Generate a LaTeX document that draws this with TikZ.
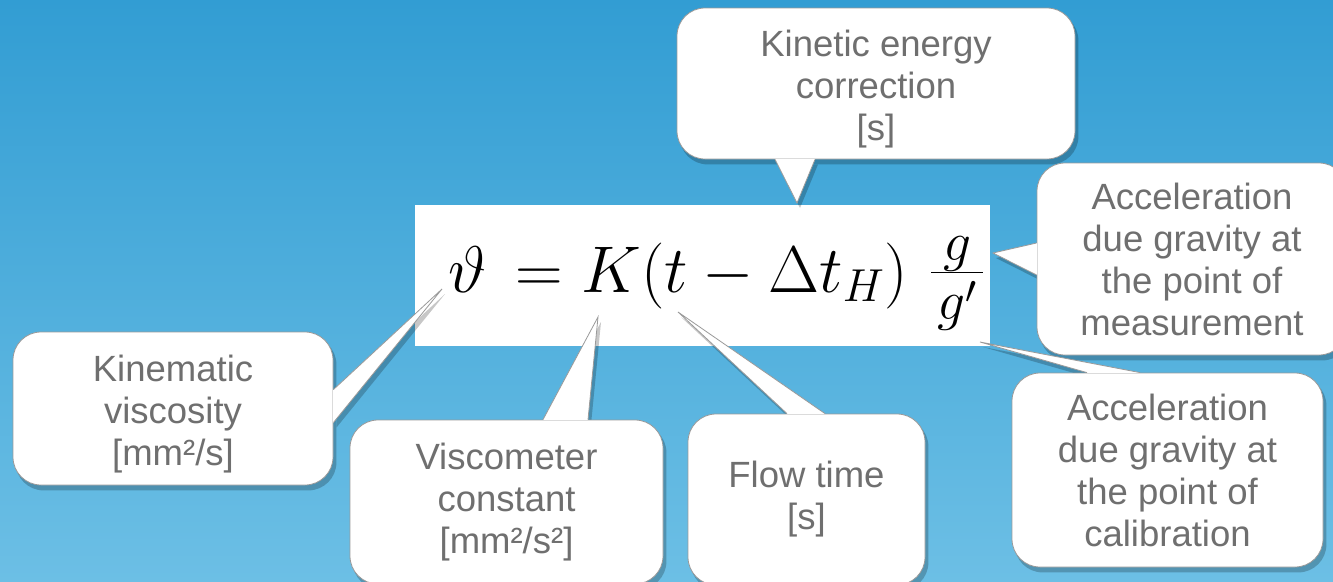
\RequirePackage{fix-cm}
\documentclass[tikz,border=0pt]{standalone}
\usepackage{graphicx}
\usepackage{fontspec}
\newfontfamily\lab{Liberation Sans}
\usetikzlibrary{calc}
\pgfdeclarelayer{bg}
\pgfdeclarelayer{shad}
\pgfsetlayers{bg,shad,main}
\definecolor{bgtop}{HTML}{329DD3}
\definecolor{bgbot}{HTML}{6CBFE5}
\definecolor{txt}{HTML}{6F6F6F}
\definecolor{edge}{HTML}{9A9A9A}
\tikzset{
  callout/.style={draw=edge, line width=0.8pt, fill=white, rounded corners=28pt,
    inner sep=0pt, align=center, font=\lab\fontsize{36.5}{42}\selectfont, text=txt},
  ptredge/.style={draw=edge, line width=0.8pt},
}
\newcommand\topgap{\rule{0pt}{38pt}}
\newcommand\ptrdraw[3]{%
  \fill[white] (#1) -- (#2) -- (#3) -- cycle;
  \draw[white, line width=1.4pt] (#1) -- (#3);
  \draw[ptredge] (#1) -- (#2) -- (#3);}
\newcommand\ptrshadow[3]{%
  \fill ($(#1)+(3,5)$) -- ($(#2)+(3,5)$) -- ($(#3)+(3,5)$) -- cycle;}
\begin{document}
\begin{tikzpicture}[x=1pt,y=-1pt]
\useasboundingbox (0,0) rectangle (1333,581);
\begin{pgfonlayer}{bg}
  \fill[top color=bgtop, bottom color=bgbot] (0,0) rectangle (1333,581);
  \node[fill=white, minimum width=575, minimum height=141, inner sep=0pt] (fbox) at (702.5,275.5) {};
  \node[anchor=base west, inner sep=0pt, font=\fontsize{66}{70}\selectfont] (eq) at (448,292)
    {$\vartheta\mkern3mu = K(t-\Delta t_H)\mkern6mu\scalebox{1.2}{$\frac{\mkern2mu g\mkern2mu}{\mkern2mu g'\mkern2mu}$}$};
\end{pgfonlayer}

% callouts
\node[callout, minimum width=398, minimum height=151] (kec) at (876,83.5) {\topgap Kinetic energy\\correction\\{[s]}};
\node[callout, minimum width=310, minimum height=192] (gm) at (1192,259) {Acceleration\\due gravity at\\the point of\\measurement};
\node[callout, minimum width=311, minimum height=194] (gc) at (1167.5,470) {Acceleration\\due gravity at\\the point of\\calibration};
\node[callout, minimum width=320, minimum height=153] (kv) at (173,408.5) {\topgap Kinematic\\viscosity\\{[mm²/s]}};
\node[callout, minimum width=313, minimum height=164] (vc) at (506.5,502) {Viscometer\\constant\\{[mm²/s²]}};
\node[callout, minimum width=237, minimum height=171] (ft) at (806.5,499.5) {Flow time\\{[s]}};

% pointer coordinates
\coordinate (kec1) at ($(kec.south)+(-101,0)$);
\coordinate (kec2) at ($(kec.south)+(-61,0)$);
\coordinate (kect) at (797,203);
\coordinate (gm1) at ($(gm.west)+(0,-16)$);
\coordinate (gm2) at ($(gm.west)+(0,16)$);
\coordinate (gmt) at (993,253);
\coordinate (gc1) at ($(gc.north)+(-80.5,0)$);
\coordinate (gc2) at ($(gc.north)+(-27.5,0)$);
\coordinate (gct) at (980,342);
\coordinate (kv1) at ($(kv.north east)+(0,58)$);
\coordinate (kv2) at ($(kv.north east)+(0,91)$);
\coordinate (kvt) at (442,289);
\coordinate (vc1) at ($(vc.north)+(36.5,0)$);
\coordinate (vc2) at ($(vc.north)+(81.5,0)$);
\coordinate (vct) at (598,317);
\coordinate (ft1) at ($(ft.north)+(-19.5,0)$);
\coordinate (ft2) at ($(ft.north)+(18.5,0)$);
\coordinate (ftt) at (678,312);

% shadows
\begin{pgfonlayer}{shad}
\begin{scope}[transparency group, opacity=0.22]
  \foreach \n in {kec,gm,gc,kv,vc,ft}
    \fill[black, rounded corners=28pt] ($(\n.north west)+(3,5)$) rectangle ($(\n.south east)+(3,5)$);
  \ptrshadow{kec1}{kect}{kec2}
  \ptrshadow{gm1}{gmt}{gm2}
  \ptrshadow{gc1}{gct}{gc2}
  \ptrshadow{kv1}{kvt}{kv2}
  \ptrshadow{vc1}{vct}{vc2}
  \ptrshadow{ft1}{ftt}{ft2}
\end{scope}
\end{pgfonlayer}

% pointers
\ptrdraw{kec1}{kect}{kec2}
\ptrdraw{gm1}{gmt}{gm2}
\ptrdraw{gc1}{gct}{gc2}
\ptrdraw{kv1}{kvt}{kv2}
\ptrdraw{vc1}{vct}{vc2}
\ptrdraw{ft1}{ftt}{ft2}
\end{tikzpicture}
\end{document}
